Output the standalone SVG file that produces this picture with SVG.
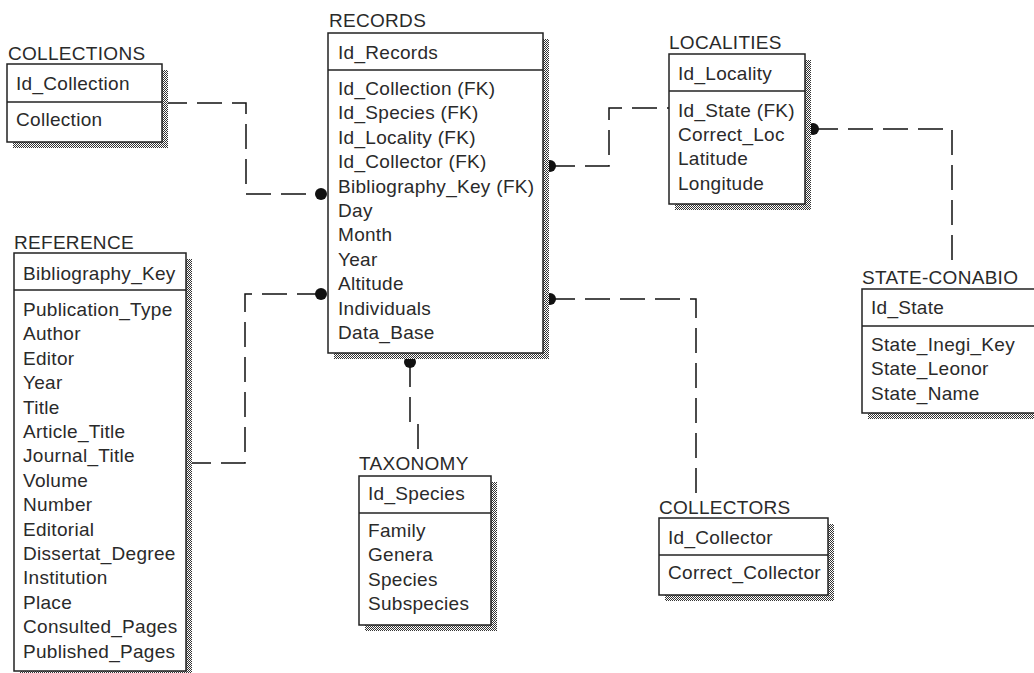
<svg xmlns="http://www.w3.org/2000/svg" width="1034" height="673" viewBox="0 0 1034 673">
<defs>
<pattern id="dither" width="2" height="2" patternUnits="userSpaceOnUse">
<rect width="2" height="2" fill="#ffffff"/>
<rect x="0" y="0" width="1" height="1" fill="#333"/>
<rect x="1" y="1" width="1" height="1" fill="#333"/>
</pattern>
</defs>
<style>
text{font-family:"Liberation Sans",Arial,sans-serif;font-size:19px;fill:#2a2a2a;letter-spacing:0.3px}
.shadow{fill:url(#dither);stroke:none}
.box{fill:#ffffff;stroke:#222;stroke-width:1.5}
.div{stroke:#222;stroke-width:1.5}
.conn{fill:none;stroke:#111;stroke-width:1.5;stroke-dasharray:25 10}
.dot{fill:#111}
</style>
<rect width="1034" height="673" fill="#ffffff"/>

<g id="connectors">
<path class="conn" d="M162,103 H246 V194 H321"/>
<circle class="dot" cx="321" cy="194" r="6"/>
<path class="conn" d="M186,463 H245 V294 H321"/>
<circle class="dot" cx="321" cy="294" r="6"/>
<path class="conn" d="M550,166 H609 V108 H669"/>
<circle class="dot" cx="550" cy="166" r="6"/>
<path class="conn" d="M813,129 H952 V264"/>
<circle class="dot" cx="813" cy="129" r="6"/>
<path class="conn" d="M550,299 H696 V493"/>
<circle class="dot" cx="550" cy="299" r="6"/>
<path class="conn" d="M410,362 V424 H418 V452"/>
<circle class="dot" cx="410" cy="362" r="6"/>
</g>

<g id="collections">
<rect class="shadow" x="13" y="70" width="155" height="78"/>
<rect class="box" x="7" y="64" width="155" height="78"/>
<line class="div" x1="7" y1="102" x2="162" y2="102"/>
<text x="8" y="60">COLLECTIONS</text>
<text x="16" y="90">Id_Collection</text>
<text x="16" y="126">Collection</text>
</g>

<g id="records">
<rect class="shadow" x="334" y="39" width="215" height="320"/>
<rect class="box" x="328" y="33" width="215" height="320"/>
<line class="div" x1="328" y1="70" x2="543" y2="70"/>
<text x="329" y="27">RECORDS</text>
<text x="338" y="59">Id_Records</text>
<text x="338" y="95">Id_Collection (FK)</text>
<text x="338" y="119.4">Id_Species (FK)</text>
<text x="338" y="143.8">Id_Locality (FK)</text>
<text x="338" y="168.2">Id_Collector (FK)</text>
<text x="338" y="192.6">Bibliography_Key (FK)</text>
<text x="338" y="217">Day</text>
<text x="338" y="241.4">Month</text>
<text x="338" y="265.8">Year</text>
<text x="338" y="290.2">Altitude</text>
<text x="338" y="314.6">Individuals</text>
<text x="338" y="339">Data_Base</text>
</g>

<g id="localities">
<rect class="shadow" x="675" y="60" width="136" height="150"/>
<rect class="box" x="669" y="54" width="136" height="150"/>
<line class="div" x1="669" y1="91" x2="805" y2="91"/>
<text x="669" y="49">LOCALITIES</text>
<text x="678" y="80">Id_Locality</text>
<text x="678" y="116.5">Id_State (FK)</text>
<text x="678" y="140.9">Correct_Loc</text>
<text x="678" y="165.3">Latitude</text>
<text x="678" y="189.7">Longitude</text>
</g>

<g id="state-conabio">
<rect class="shadow" x="868" y="295" width="200" height="124"/>
<rect class="box" x="862" y="289" width="200" height="124"/>
<line class="div" x1="862" y1="326" x2="1034" y2="326"/>
<text x="862" y="284">STATE-CONABIO</text>
<text x="871" y="314">Id_State</text>
<text x="871" y="351">State_Inegi_Key</text>
<text x="871" y="375.4">State_Leonor</text>
<text x="871" y="399.8">State_Name</text>
</g>

<g id="reference">
<rect class="shadow" x="20" y="259" width="172" height="418"/>
<rect class="box" x="14" y="253" width="172" height="418"/>
<line class="div" x1="14" y1="290" x2="186" y2="290"/>
<text x="14" y="249">REFERENCE</text>
<text x="23" y="280">Bibliography_Key</text>
<text x="23" y="316">Publication_Type</text>
<text x="23" y="340.4">Author</text>
<text x="23" y="364.8">Editor</text>
<text x="23" y="389.2">Year</text>
<text x="23" y="413.6">Title</text>
<text x="23" y="438">Article_Title</text>
<text x="23" y="462.4">Journal_Title</text>
<text x="23" y="486.8">Volume</text>
<text x="23" y="511.2">Number</text>
<text x="23" y="535.6">Editorial</text>
<text x="23" y="560">Dissertat_Degree</text>
<text x="23" y="584.4">Institution</text>
<text x="23" y="608.8">Place</text>
<text x="23" y="633.2">Consulted_Pages</text>
<text x="23" y="657.6">Published_Pages</text>
</g>

<g id="taxonomy">
<rect class="shadow" x="365" y="482" width="132" height="149"/>
<rect class="box" x="359" y="476" width="132" height="149"/>
<line class="div" x1="359" y1="513" x2="491" y2="513"/>
<text x="359" y="470">TAXONOMY</text>
<text x="368" y="500">Id_Species</text>
<text x="368" y="537">Family</text>
<text x="368" y="561.4">Genera</text>
<text x="368" y="585.8">Species</text>
<text x="368" y="610.2">Subspecies</text>
</g>

<g id="collectors">
<rect class="shadow" x="665" y="524" width="169" height="77"/>
<rect class="box" x="659" y="518" width="169" height="77"/>
<line class="div" x1="659" y1="555" x2="828" y2="555"/>
<text x="659" y="514">COLLECTORS</text>
<text x="668" y="544">Id_Collector</text>
<text x="668" y="579">Correct_Collector</text>
</g>
</svg>
